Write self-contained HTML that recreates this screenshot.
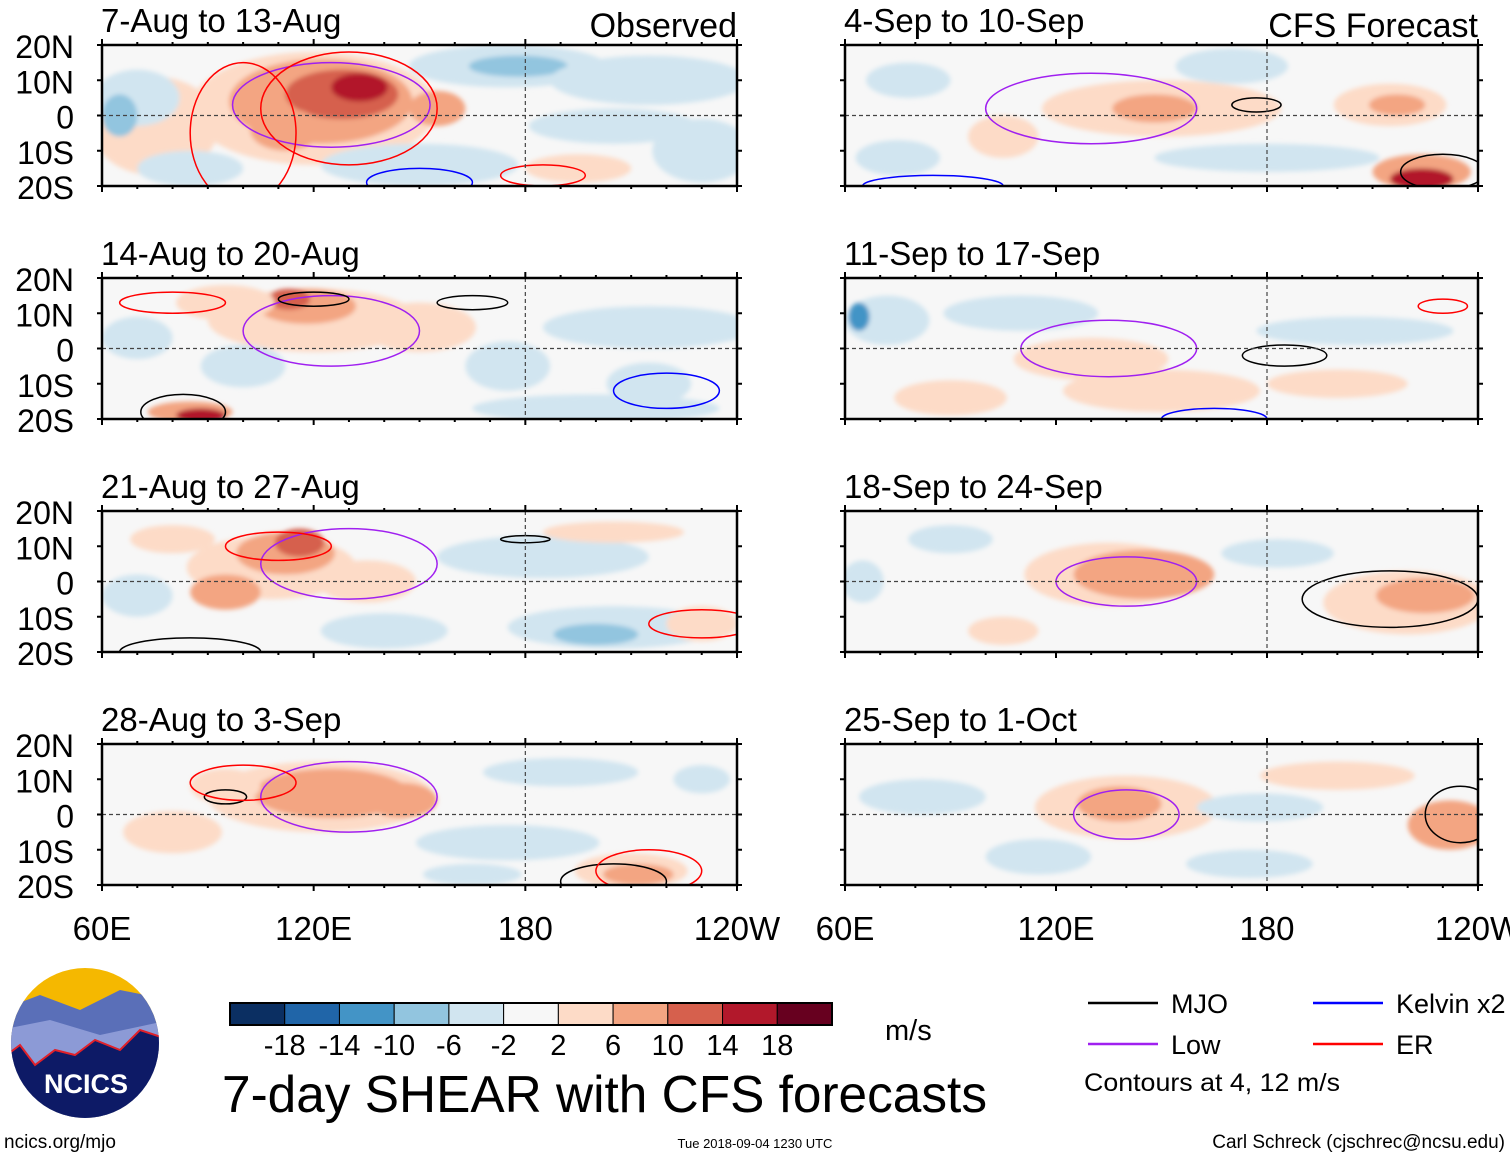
<!DOCTYPE html>
<html><head><meta charset="utf-8"><style>
html,body{margin:0;padding:0;background:#fff;width:1510px;height:1158px;overflow:hidden}
svg text{font-family:"Liberation Sans",sans-serif}
</style></head><body>
<svg id="s" width="1510" height="1158" xmlns="http://www.w3.org/2000/svg">
<defs><filter id="bl" x="-20%" y="-20%" width="140%" height="140%"><feGaussianBlur stdDeviation="2.5"/></filter></defs>
</svg>
<script>
// Panel titles
const titles=["7-Aug to 13-Aug","14-Aug to 20-Aug","21-Aug to 27-Aug","28-Aug to 3-Sep","4-Sep to 10-Sep","11-Sep to 17-Sep","18-Sep to 24-Sep","25-Sep to 1-Oct"];
const latTicks=["20N","10N","0","10S","20S"];
const lonTicks=["60E","120E","180","120W"];
const binEdges=[-18,-14,-10,-6,-2,2,6,10,14,18];
const binColors=["#0b2f62","#2065a8","#4394c6","#92c5df","#d1e5f0","#f7f7f7","#fddbc7","#f3a582","#d6604d","#b2182b","#67001f"];
// shading blobs per panel: [lon, lat, rlon, rlat, value]
const shade0=[[75,-3,18,14,3],[70,5,12,8,-3],[65,0,5,6,-7],[120,2,35,16,4],[122,4,26,12,8],[128,6,16,7,11],[133,8,8,4,15],[112,-4,10,6,10],[155,2,8,5,7],[175,14,28,6,-4],[178,14,14,3,-7],[215,10,28,7,-3],[230,-10,14,9,-3],[150,-14,28,6,-3],[205,-3,24,5,-3],[195,-15,15,4,3],[85,-15,15,5,-3]];
const shade1=[[120,8,30,9,5],[118,12,14,5,9],[113,14,6,3,14],[150,6,16,7,5],[95,13,14,5,4],[85,-18,12,3,10],[88,-19,7,2,15],[215,6,30,6,-3],[200,-17,35,4,-3],[215,-10,12,6,-5],[100,-5,12,6,-3],[175,-5,12,7,-3],[70,3,10,6,-3]];
const shade2=[[108,4,24,9,5],[112,8,14,6,9],[116,11,7,4,14],[95,-3,10,5,9],[70,-4,10,6,-4],[140,-14,18,5,-3],[205,-13,30,6,-3],[200,-15,12,3,-7],[185,7,30,6,-3],[205,14,20,3,4],[135,0,14,6,3],[80,12,12,4,3],[230,-12,10,5,3]];
const shade3=[[122,5,32,10,4],[125,6,22,7,7],[145,4,10,5,9],[95,8,10,5,5],[210,-16,16,5,5],[212,-17,10,3,9],[175,-8,26,5,-3],[190,12,22,4,-3],[230,10,8,4,-3],[80,-5,14,6,3],[165,-17,14,3,-4]];
const shade4=[[150,2,34,8,3],[148,2,12,4,7],[215,3,16,6,5],[217,3,8,3,9],[224,-16,14,5,10],[224,-18,9,3,18],[180,-12,32,4,-3],[105,-6,10,6,3],[78,10,12,5,-3],[75,-12,12,5,-3],[170,14,16,5,-3]];
const shade5=[[72,8,12,7,-4],[64,9,3,4,-10],[110,10,22,5,-3],[130,-3,22,6,3],[205,5,28,4,-3],[150,-12,28,6,3],[90,-14,16,5,3],[200,-10,20,4,3]];
const shade6=[[135,2,24,9,4],[145,2,20,7,7],[140,3,10,4,9],[220,-6,24,9,5],[225,-4,14,5,10],[65,0,6,6,-4],[183,8,16,4,-3],[90,12,12,4,-3],[105,-14,10,4,3]];
const shade7=[[140,2,26,9,4],[138,3,12,5,8],[232,-3,12,7,7],[82,5,18,5,-4],[178,2,18,4,-4],[200,11,22,4,3],[115,-12,15,5,-3],[175,-14,18,4,-3]];
const shades=[shade0,shade1,shade2,shade3,shade4,shade5,shade6,shade7];
// contours: [lon, lat, rlon, rlat, type]
const cont0=[[125,3,28,12,"low"],[130,2,25,16,"er"],[185,-17,12,3,"er"],[150,-19,15,4,"kel"],[100,-5,15,20,"er"]];
const cont1=[[125,5,25,10,"low"],[120,14,10,2,"mjo"],[165,13,10,2,"mjo"],[83,-18,12,5,"mjo"],[220,-12,15,5,"kel"],[80,13,15,3,"er"]];
const cont2=[[130,5,25,10,"low"],[85,-20,20,4,"mjo"],[180,12,7,1,"mjo"],[230,-12,15,4,"er"],[110,10,15,4,"er"]];
const cont3=[[130,5,25,10,"low"],[95,5,6,2,"mjo"],[100,9,15,5,"er"],[205,-19,15,5,"mjo"],[215,-16,15,6,"er"]];
const cont4=[[130,2,30,10,"low"],[177,3,7,2,"mjo"],[230,-16,12,5,"mjo"],[85,-20,20,3,"kel"]];
const cont5=[[135,0,25,8,"low"],[185,-2,12,3,"mjo"],[165,-20,15,3,"kel"],[230,12,7,2,"er"]];
const cont6=[[140,0,20,7,"low"],[215,-5,25,8,"mjo"]];
const cont7=[[140,0,15,7,"low"],[235,0,10,8,"mjo"]];
const conts=[cont0,cont1,cont2,cont3,cont4,cont5,cont6,cont7];
const contColors={mjo:"#000",low:"#a020f0",kel:"#0000ff",er:"#ff0000"};

const S=document.getElementById('s');const NS="http://www.w3.org/2000/svg";
function el(t,a,p){const e=document.createElementNS(NS,t);for(const k in a)e.setAttribute(k,a[k]);(p||S).appendChild(e);return e;}
function txt(x,y,s,size,anchor,p,w){const e=el('text',{x:x,y:y,'font-size':size,'text-anchor':anchor||'start'},p);e.textContent=s;if(w){e.setAttribute('textLength',w);e.setAttribute('lengthAdjust','spacingAndGlyphs');}return e;}
function colorOf(v){let i=0;while(i<binEdges.length&&v>binEdges[i])i++;return binColors[i];}
const rowsY=[45,278,511,744],H=141;
const colsX=[[102,737],[845,1478]];
for(let p=0;p<8;p++){
  const c=p<4?0:1,r=p%4;const x0=colsX[c][0],x1=colsX[c][1],y0=rowsY[r],y1=y0+H;
  const lonX=l=>x0+(l-60)/180*(x1-x0);const latY=t=>y0+(20-t)/40*H;
  const g=el('g',{});
  
  
  const cp=el('clipPath',{id:'cp'+p},S);el('rect',{x:x0,y:y0,width:x1-x0,height:H},cp);
  el('rect',{x:x0,y:y0,width:x1-x0,height:H,fill:'#f7f7f7'},g);
  const sg=el('g',{'clip-path':'url(#cp'+p+')'},g);
  const fg=el('g',{filter:'url(#bl)'},sg);
  shades[p].forEach(b=>{const e=el('ellipse',{cx:lonX(b[0]),cy:latY(b[1]),rx:b[2]/180*(x1-x0),ry:b[3]/40*H,fill:colorOf(b[4])},fg);
    
    });
  conts[p].forEach(b=>{const e=el('ellipse',{cx:lonX(b[0]),cy:latY(b[1]),rx:b[2]/180*(x1-x0),ry:b[3]/40*H,fill:'none',stroke:contColors[b[4]],'stroke-width':1.5},sg);
    
    });
  el('line',{x1:x0,x2:x1,y1:latY(0),y2:latY(0),stroke:'#444','stroke-dasharray':'4 3','stroke-width':1.2},g);
  el('line',{x1:lonX(180),x2:lonX(180),y1:y0,y2:y1,stroke:'#444','stroke-dasharray':'4 3','stroke-width':1.2},g);
  el('rect',{x:x0,y:y0,width:x1-x0,height:H,fill:'none',stroke:'#000','stroke-width':2.5},g);
  for(let l=60;l<=240;l+=10){const big=l%60==0;const X=lonX(l);
    el('line',{x1:X,x2:X,y1:y0,y2:y0-(big?6:3),stroke:'#000','stroke-width':2},g);
    el('line',{x1:X,x2:X,y1:y1,y2:y1+(big?6:3),stroke:'#000','stroke-width':2},g);}
  for(let t=-20;t<=20;t+=10){const Y=latY(t);
    el('line',{x1:x0,x2:x0-5,y1:Y,y2:Y,stroke:'#000','stroke-width':2},g);
    el('line',{x1:x1,x2:x1+5,y1:Y,y2:Y,stroke:'#000','stroke-width':2},g);}
  const tt=txt(x0-1,y0-13,titles[p],33,'start',g);
  
  
  if(c==0){latTicks.forEach((s,i)=>{const e=txt(74,y0+i*H/4+13,s,32,'end',g);
    
    });}
  if(r==3){lonTicks.forEach((s,i)=>{const e=txt(x0+i*(x1-x0)/3,y1+55,s,33,'middle',g);
    
    });}
}
let e;
e=txt(737,37,"Observed",34,'end');
e=txt(1478,37,"CFS Forecast",34,'end');
// colorbar
const cb=el('g',{});
const bw=(832-230)/binColors.length;
binColors.forEach((col,i)=>{const r=el('rect',{x:230+i*bw,y:1003,width:bw,height:22,fill:col,stroke:'#000','stroke-width':1},cb);
  });
el('rect',{x:230,y:1003,width:602,height:22,fill:'none',stroke:'#000','stroke-width':2},cb);
binEdges.forEach((v,i)=>{const t=txt(230+(i+1)*bw,1055,String(v),29,'middle',cb);});
e=txt(885,1040,"m/s",29,'start');
e=txt(222,1112,"7-day SHEAR with CFS forecasts",52,'start',null,765);
// legend
const lg=[["MJO","#000",1088,1003],["Kelvin x2","#0000ff",1313,1003],["Low","#a020f0",1088,1044],["ER","#ff0000",1313,1044]];
lg.forEach(a=>{const g=el('g',{});
  el('line',{x1:a[2],x2:a[2]+70,y1:a[3],y2:a[3],stroke:a[1],'stroke-width':2.5},g);txt(a[2]+83,a[3]+10,a[0],27,'start',g);});
e=txt(1084,1091,"Contours at 4, 12 m/s",25,'start',null,256);
e=txt(4,1148,"ncics.org/mjo",19,'start');
e=txt(755,1148,"Tue 2018-09-04 1230 UTC",13,'middle');
e=txt(1505,1148,"Carl Schreck (cjschrec@ncsu.edu)",19,'end');
// logo
const lgo=el('g',{});
const lc=el('clipPath',{id:'lc'});el('ellipse',{cx:85,cy:1043,rx:74,ry:75},lc);
const lgc=el('g',{'clip-path':'url(#lc)'},lgo);
el('rect',{x:0,y:960,width:170,height:170,fill:'#f5b800'},lgc);
el('polygon',{points:'0,1010 40,995 80,1010 120,990 170,1000 170,1130 0,1130',fill:'#5a6fb8'},lgc);
el('polygon',{points:'0,1030 50,1020 100,1035 170,1020 170,1130 0,1130',fill:'#8c9ad6'},lgc);
el('polygon',{points:'0,1060 20,1045 35,1065 55,1050 75,1055 95,1040 120,1050 140,1030 170,1040 170,1130 0,1130',fill:'#0d1a66',stroke:'#e0202a','stroke-width':2},lgc);
const nt=txt(86,1093,"NCICS",27,'middle',lgo);nt.setAttribute('fill','#fff');nt.setAttribute('font-weight','bold');
</script>
</body></html>
